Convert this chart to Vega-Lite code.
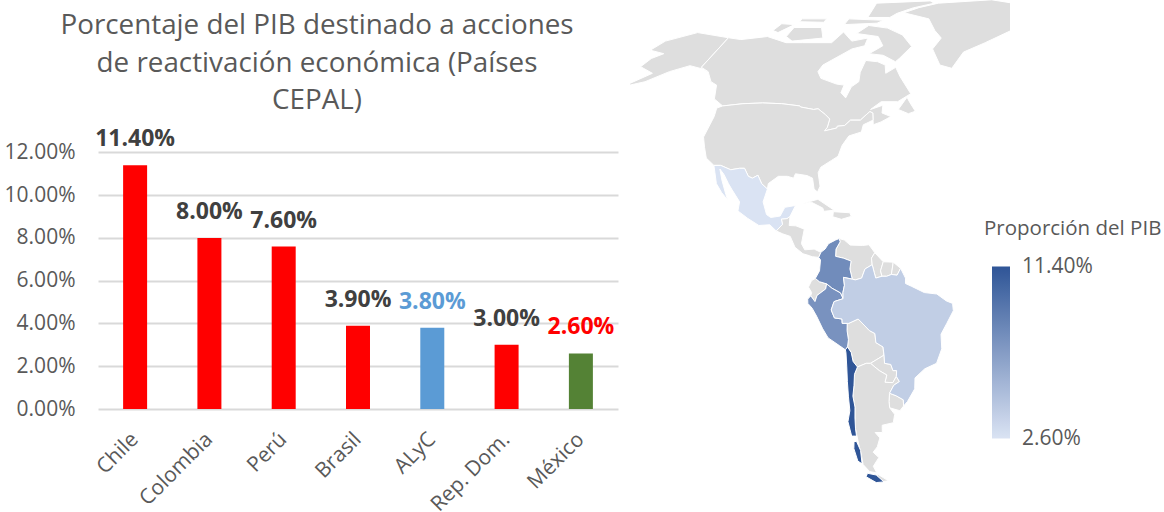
{
"$schema":"https://vega.github.io/schema/vega-lite/v6.json",
"padding":{"left":4,"top":0,"right":0,"bottom":0},
"background":"white",
"spacing":12,
"config":{"view":{"stroke":null},"font":"Open Sans"},
"resolve":{"legend":{"color":"independent"}},
"hconcat":[
{
"title":{"text":["Porcentaje del PIB destinado a acciones","de reactivación económica (Países","CEPAL)"],"fontSize":27.8,"font":"Open Sans","fontWeight":"normal","color":"#595959","lineHeight":37.5,"anchor":"middle","dx":-41,"offset":-115},
"width":520,"height":409,
"data":{"values":[
{"pais":"Chile","pib":0.114},{"pais":"Colombia","pib":0.08},{"pais":"Perú","pib":0.076},{"pais":"Brasil","pib":0.039},{"pais":"ALyC","pib":0.038},{"pais":"Rep. Dom.","pib":0.03},{"pais":"México","pib":0.026}]},
"encoding":{
"x":{"field":"pais","type":"nominal","sort":null,"title":null,"scale":{"paddingInner":0.677,"paddingOuter":0.338},
"axis":{"labelAngle":-45,"labelFontSize":21,"labelColor":"#595959","labelFont":"Open Sans","ticks":false,"domain":false,"labelPadding":27,"labelOverlap":false,"labelAlign":"right","labelBaseline":"middle"}},
"y":{"field":"pib","type":"quantitative","title":null,"scale":{"domain":[0,0.19134],"nice":false},
"axis":{"values":[0,0.02,0.04,0.06,0.08,0.1,0.12],"format":".2%","labelFontSize":21,"labelColor":"#595959","labelFont":"Open Sans","ticks":false,"domain":false,"grid":true,"gridColor":"#d9d9d9","gridWidth":2,"labelPadding":23}}
},
"layer":[
{"mark":{"type":"bar"},"encoding":{"color":{"condition":[{"test":"datum.pais==='ALyC'","value":"#5b9bd5"},{"test":"datum.pais==='México'","value":"#548235"}],"value":"#ff0000"}}},
{"mark":{"type":"text","fontWeight":"bold","fontSize":23,"font":"Open Sans","dy":-26,"baseline":"middle"},"encoding":{"text":{"field":"pib","type":"quantitative","format":".2%"},"color":{"condition":[{"test":"datum.pais==='ALyC'","value":"#5b9bd5"},{"test":"datum.pais==='México'","value":"#ff0000"}],"value":"#404040"}}}
]
},
{
"width":380,"height":500,
"projection":{"type":"naturalEarth1","scale":206,"translate":[432,283.5]},
"layer":[
{"data":{"values":[
{"type":"Feature","properties":{"n":"Alaska"},"geometry":{"type":"Polygon","coordinates":[[[-168,65.6],[-166,68.5],[-156.5,71.3],[-141,69.6],[-141,60.3],[-137,59],[-133,56],[-130,55],[-134,58],[-140,59.8],[-146,60.8],[-152,59],[-158,56],[-165,54.5],[-158,58.5],[-165,60.5],[-164,63],[-161,64.5],[-168,65.6]]]}},
{"type":"Feature","properties":{"n":"Canadá"},"geometry":{"type":"MultiPolygon","coordinates":[
[[[-141,69.6],[-135,69],[-125,70],[-115,68],[-108,68],[-96,68],[-94,71.5],[-88,68.5],[-82,69.5],[-81.5,67],[-86,66],[-94,61],[-94.5,59],[-92,57],[-85,55.3],[-82,55],[-82,52.8],[-79.5,51.3],[-79,54.5],[-77,56],[-78,58.8],[-78,62.4],[-73,62],[-69.5,61],[-68,58.5],[-65,60.3],[-62,57.5],[-56,52.5],[-60,50.2],[-66,50.2],[-69,48],[-65,49.2],[-64.5,47],[-61,46],[-64,44.5],[-66.5,43.7],[-67,45],[-67.8,47],[-69,47.4],[-70,46.5],[-71.5,45],[-75,45],[-76.5,43.5],[-79,43.3],[-79,42.8],[-83,42],[-82.4,43],[-82.5,45.3],[-84.5,46.5],[-88,48.2],[-89.5,48],[-94.6,48.7],[-95,49],[-123,49],[-127.5,51],[-130,55],[-133,56],[-137,59],[-141,60.3],[-141,69.6]]],
[[[-85,73.7],[-76,72.8],[-68,70.5],[-62,66.8],[-65,63],[-66,62],[-72,64],[-78,64.5],[-74,67],[-78,70],[-88,71],[-85,73.7]]],
[[[-117,73],[-105,73],[-101,69.5],[-113,68.5],[-117,70],[-117,73]]],
[[[-90,82],[-65,83],[-62,82],[-76,78],[-78,76.5],[-88,76.5],[-90,82]]],
[[[-124,74.3],[-118,74],[-122,71.3],[-125,72],[-124,74.3]]],
[[[-96,76],[-80,75.5],[-82,74.5],[-96,74],[-96,76]]],
[[[-117,76],[-106,76],[-106,74.8],[-117,75],[-117,76]]],
[[[-59,48],[-57,51.5],[-55.5,50],[-52.7,47.5],[-55,46.8],[-59,48]]]
]}},
{"type":"Feature","properties":{"n":"Groenlandia"},"geometry":{"type":"Polygon","coordinates":[[[-73,78.2],[-60,82],[-35,83.5],[-20,81.5],[-18,77],[-22,72],[-32,68],[-40,65],[-43,60],[-48,61],[-53,66],[-51,69.5],[-55,72],[-60,76],[-73,78.2]]]}},
{"type":"Feature","properties":{"n":"Estados Unidos"},"geometry":{"type":"Polygon","coordinates":[[[-124.7,48.4],[-123,49],[-95,49],[-94.6,48.7],[-89.5,48],[-88,48.2],[-84.5,46.5],[-82.5,45.3],[-82.4,43],[-83,42],[-79,42.8],[-79,43.3],[-76.5,43.5],[-75,45],[-71.5,45],[-70,46.5],[-69,47.4],[-67.8,47],[-67,45],[-70,43.7],[-70,41.7],[-74,40.6],[-75.5,38],[-76,35],[-78,33.8],[-81,32],[-81.5,30.5],[-80,26.8],[-80.5,25.2],[-81.8,26],[-83,29],[-85,29.7],[-89,30.2],[-89.3,29],[-91.5,29.5],[-94.5,29.5],[-97.3,27.5],[-97.2,26],[-99.5,27.5],[-101.4,29.8],[-103,29],[-104.5,29.5],[-106.5,31.7],[-108.2,31.7],[-111,31.3],[-114.8,32.5],[-117.1,32.5],[-120.5,34.5],[-122.5,37.5],[-124.3,40.3],[-124,46],[-124.7,48.4]]]}},
{"type":"Feature","properties":{"n":"Centroamérica"},"geometry":{"type":"Polygon","coordinates":[[[-92.2,14.5],[-90.4,16.3],[-91,17.8],[-89.2,17.9],[-88.3,18.5],[-88.2,16],[-86,15.9],[-83.2,15],[-83.7,11],[-82.5,9.3],[-79.5,9.5],[-77.3,8.6],[-77.9,7.2],[-80,7.4],[-81,7.7],[-83,8.2],[-85.7,10],[-87.5,13],[-90,13.7],[-92.2,14.5]]]}},
{"type":"Feature","properties":{"n":"Cuba"},"geometry":{"type":"Polygon","coordinates":[[[-85,22],[-80,23.2],[-74.2,20.2],[-77.5,19.9],[-78,20.8],[-82,22.4],[-85,22]]]}},
{"type":"Feature","properties":{"n":"La Española"},"geometry":{"type":"Polygon","coordinates":[[[-74.4,19.8],[-69,19.5],[-68.4,18.5],[-71.5,17.7],[-74.4,18.4],[-74.4,19.8]]]}},
{"type":"Feature","properties":{"n":"Ecuador"},"geometry":{"type":"Polygon","coordinates":[[[-78.8,1.4],[-77.5,0.5],[-75.2,-0.1],[-75.5,-1.5],[-78.3,-3.3],[-79,-5],[-80.3,-3.4],[-80,-2.5],[-81,-1],[-80,0.8],[-78.8,1.4]]]}},
{"type":"Feature","properties":{"n":"Venezuela"},"geometry":{"type":"Polygon","coordinates":[[[-71.7,12.4],[-70,12],[-68,10.6],[-64,10.5],[-62,10.7],[-60,8.5],[-61,7],[-60.7,5.2],[-63,4],[-64,1.5],[-66,1],[-67,1.2],[-67.8,4],[-67.5,6.2],[-70,7],[-72.5,7.5],[-72.5,9.5],[-71.3,11.5],[-71.7,12.4]]]}},
{"type":"Feature","properties":{"n":"Guyana"},"geometry":{"type":"Polygon","coordinates":[[[-60,8.5],[-57.2,6],[-58,3.5],[-57.5,2],[-59.5,1.5],[-60,3],[-60.7,5.2],[-61,7],[-60,8.5]]]}},
{"type":"Feature","properties":{"n":"Surinam"},"geometry":{"type":"Polygon","coordinates":[[[-57.2,6],[-54,5.9],[-54.5,2.5],[-56,2],[-57.5,2],[-58,3.5],[-57.2,6]]]}},
{"type":"Feature","properties":{"n":"Guayana Francesa"},"geometry":{"type":"Polygon","coordinates":[[[-54,5.9],[-51.6,4.2],[-52.7,2.3],[-54.5,2.5],[-54,5.9]]]}},
{"type":"Feature","properties":{"n":"Bolivia"},"geometry":{"type":"Polygon","coordinates":[[[-69,-11],[-68.5,-11],[-65.4,-9.8],[-62,-13],[-60.3,-13.8],[-60.2,-16.3],[-58,-17.5],[-58,-19.8],[-62.6,-22],[-64,-22],[-67,-23],[-68.2,-21.5],[-68.5,-19],[-69.5,-17.5],[-69,-15.5],[-69.2,-13],[-69,-11]]]}},
{"type":"Feature","properties":{"n":"Paraguay"},"geometry":{"type":"Polygon","coordinates":[[[-62.6,-22],[-58,-19.8],[-57.9,-20],[-58,-22],[-56,-22.3],[-55.5,-24],[-54.3,-24],[-54.6,-25.6],[-56,-27.3],[-58.6,-27.2],[-57.7,-25.2],[-60,-24],[-62.6,-22]]]}},
{"type":"Feature","properties":{"n":"Uruguay"},"geometry":{"type":"Polygon","coordinates":[[[-57.6,-30.2],[-55.5,-30.9],[-53.3,-32],[-53.5,-33.7],[-55,-35],[-58.3,-34.2],[-58.2,-32.5],[-57.6,-30.2]]]}},
{"type":"Feature","properties":{"n":"Argentina"},"geometry":{"type":"MultiPolygon","coordinates":[
[[[-67,-23],[-64,-22],[-62.6,-22],[-60,-24],[-57.7,-25.2],[-58.6,-27.2],[-56,-27.3],[-54.6,-25.6],[-53.8,-27],[-55.8,-28],[-57.6,-30.2],[-58.2,-32.5],[-58.3,-34.2],[-57,-36],[-58,-38.3],[-62,-39],[-62.5,-41],[-65,-41],[-63.8,-42.5],[-65.5,-45],[-67.5,-46.5],[-66,-48],[-69,-50.5],[-68.5,-52.4],[-71,-52],[-72.5,-50],[-72,-47],[-71.8,-44],[-71.5,-40],[-70.8,-37],[-70,-34],[-70,-31],[-69,-28],[-68.3,-25],[-67,-23]]],
[[[-68.6,-52.6],[-65.2,-54.7],[-68.6,-55],[-68.6,-52.6]]]
]}}
],"format":{"type":"json"}},
"mark":{"type":"geoshape","fill":"#dedede","stroke":"#ffffff","strokeWidth":1,"clip":true}},
{"data":{"values":[
{"type":"Feature","properties":{"n":"México","pib":0.026},"geometry":{"type":"Polygon","coordinates":[[[-117.1,32.5],[-114.8,32.5],[-111,31.3],[-108.2,31.7],[-106.5,31.7],[-104.5,29.5],[-103,29],[-101.4,29.8],[-99.5,27.5],[-97.2,26],[-97.8,22.5],[-96,19],[-94.5,18.2],[-91.5,18.6],[-90.4,21],[-87,21.5],[-88.3,18.5],[-89.2,17.9],[-91,17.8],[-90.4,16.3],[-92.2,14.5],[-94.5,16.2],[-98,16],[-102,18],[-105.5,20],[-105.5,22.5],[-109,26],[-110.5,27.5],[-112.8,30],[-114.7,31.5],[-113,28.5],[-110.5,24.5],[-109.5,23],[-112,25],[-114.5,27.5],[-116,30.5],[-117.1,32.5]]]}},
{"type":"Feature","properties":{"n":"Colombia","pib":0.08},"geometry":{"type":"Polygon","coordinates":[[[-77.3,8.6],[-76,9.5],[-75,11],[-72.8,12],[-71.7,12.4],[-71.3,11.5],[-72.5,9.5],[-72.5,7.5],[-70,7],[-67.5,6.2],[-67.8,4],[-67,1.2],[-69.8,1.7],[-69.5,-0.5],[-70,-2.5],[-70,-4.2],[-70.8,-2.6],[-73.5,-1.3],[-75.2,-0.1],[-77.5,0.5],[-78.8,1.4],[-77.5,3.5],[-77.3,6.5],[-77.9,7.2],[-77.3,8.6]]]}},
{"type":"Feature","properties":{"n":"Perú","pib":0.076},"geometry":{"type":"Polygon","coordinates":[[[-80.3,-3.4],[-79,-5],[-78.3,-3.3],[-75.5,-1.5],[-75.2,-0.1],[-73.5,-1.3],[-70.8,-2.6],[-70,-4.2],[-72.9,-5],[-73.9,-7.3],[-73,-9.5],[-70.6,-9.8],[-70.6,-11],[-69,-11],[-69.2,-13],[-69,-15.5],[-69.5,-17.5],[-70.3,-18.3],[-72,-17.2],[-75.5,-15],[-77,-12.5],[-78.7,-9],[-80,-6.8],[-81.3,-5.5],[-81.3,-4.3],[-80.3,-3.4]]]}},
{"type":"Feature","properties":{"n":"Brasil","pib":0.039},"geometry":{"type":"Polygon","coordinates":[[[-69.8,1.7],[-67,1.2],[-66,1],[-64,1.5],[-63,4],[-60.7,5.2],[-60,3],[-59.5,1.5],[-57.5,2],[-56,2],[-54.5,2.5],[-52.7,2.3],[-51.6,4.2],[-50,1.5],[-50,0],[-48,-0.8],[-44,-2.5],[-40,-2.9],[-37,-4.8],[-35,-5.5],[-34.8,-7.5],[-37,-11],[-39,-14],[-39,-18],[-41,-22],[-45,-23.5],[-48.5,-26],[-49,-29],[-52,-32.5],[-53.5,-33.7],[-53.3,-32],[-55.5,-30.9],[-57.6,-30.2],[-55.8,-28],[-53.8,-27],[-54.6,-25.6],[-54.3,-24],[-55.5,-24],[-56,-22.3],[-58,-22],[-57.9,-20],[-58,-17.5],[-60.2,-16.3],[-60.3,-13.8],[-62,-13],[-65.4,-9.8],[-68.5,-11],[-69,-11],[-70.6,-11],[-70.6,-9.8],[-73,-9.5],[-73.9,-7.3],[-72.9,-5],[-70,-4.2],[-70,-2.5],[-69.5,-0.5],[-69.8,1.7]]]}},
{"type":"Feature","properties":{"n":"Chile","pib":0.114},"geometry":{"type":"MultiPolygon","coordinates":[
[[[-69.5,-17.5],[-68.5,-19],[-68.2,-21.5],[-67,-23],[-68.3,-25],[-69,-28],[-70,-31],[-70,-34],[-70.8,-37],[-71.5,-40],[-71.8,-42],[-73.5,-42],[-73.5,-38],[-72,-35],[-71.5,-31],[-71,-27],[-70.5,-23],[-70.2,-19],[-70.3,-18.3],[-69.5,-17.5]]],
[[[-72.3,-43.5],[-71.8,-46],[-72.8,-49.8],[-74,-49],[-74,-45.5],[-73.2,-43.5],[-72.3,-43.5]]],
[[[-72,-52.5],[-69,-53],[-67,-55],[-70,-55.2],[-73,-53.5],[-72,-52.5]]]
]}}
],"format":{"type":"json"}},
"mark":{"type":"geoshape","stroke":"#ffffff","strokeWidth":1,"clip":true},
"encoding":{"color":{"field":"properties.pib","type":"quantitative","scale":{"domain":[0.026,0.114],"range":["#dae3f3","#2f5597"],"interpolate":"rgb"},
"legend":{"orient":"none","legendX":354,"legendY":219,"title":"Proporción del PIB","format":".2%","values":[0.026,0.114],"gradientLength":172,"gradientThickness":18,"titleFontSize":20.5,"titleFont":"Open Sans","titleFontWeight":"normal","titleColor":"#595959","titlePadding":27,"labelFontSize":21,"labelFont":"Open Sans","labelColor":"#595959","labelOffset":12,"gradientStrokeWidth":0,"encoding":{"title":{"dx":{"value":-8}},"labels":{"baseline":{"value":"middle"}}}}}}}
]
}
]
}
